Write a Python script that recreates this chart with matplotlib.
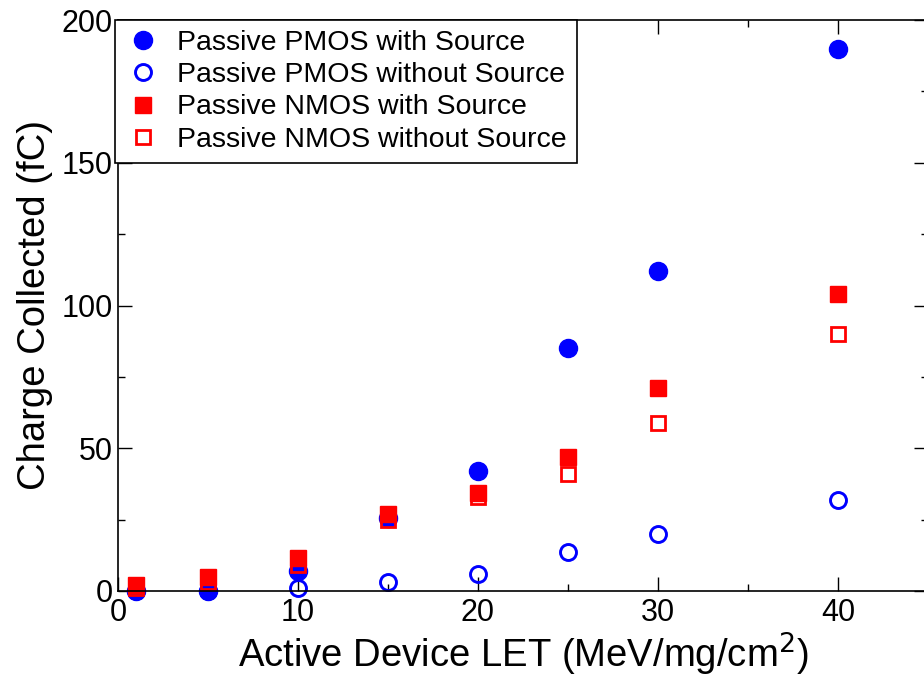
import matplotlib
matplotlib.use("Agg")
import matplotlib.pyplot as plt
from matplotlib.ticker import MultipleLocator

plt.rcParams['font.family'] = ['Liberation Sans', 'DejaVu Sans']

let = [1, 5, 10, 15, 20, 25, 30, 40]
pmos_src = [0, 0, 7, 25.5, 42, 85, 112, 190]
pmos_nosrc = [0, 0, 1, 3, 6, 13.5, 20, 32]
nmos_src = [2, 5, 11.5, 27, 34.5, 47, 71, 104]
nmos_nosrc = [1, 3, 9, 25, 33, 41, 59, 90]

fig = plt.figure(figsize=(9.24, 6.78), dpi=100)
ax = fig.add_axes([118/924, 87/678, 810/924, 571/678])

ax.plot(let, pmos_src, 'o', color="blue", markersize=13, clip_on=False,
        label="Passive PMOS with Source")
ax.plot(let, pmos_nosrc, 'o', color="blue", markerfacecolor="none", markeredgewidth=2.1,
        markersize=11.5, clip_on=False, label="Passive PMOS without Source")
ax.plot(let, nmos_src, 's', color="red", markersize=11, clip_on=False,
        label="Passive NMOS with Source")
ax.plot(let, nmos_nosrc, 's', color="red", markerfacecolor="none", markeredgewidth=2.0,
        markersize=10, clip_on=False, label="Passive NMOS without Source")

ax.set_xlim(0, 45)
ax.set_ylim(0, 200)
ax.xaxis.set_major_locator(MultipleLocator(10))
ax.xaxis.set_minor_locator(MultipleLocator(5))
ax.yaxis.set_major_locator(MultipleLocator(50))
ax.yaxis.set_minor_locator(MultipleLocator(25))
ax.tick_params(which="both", direction="in", top=True, right=True, labelsize=22, width=1)
ax.tick_params(which="major", length=10)
ax.tick_params(which="minor", length=5)
ax.tick_params(axis="x", pad=5)
ax.tick_params(axis="y", pad=4)
for s in ax.spines.values():
    s.set_linewidth(1.2)

ax.set_xlabel("Active Device LET (MeV/mg/cm$^2$)", fontsize=27.5, labelpad=2)
ax.set_ylabel("Charge Collected (fC)", fontsize=27.5, labelpad=6)

leg = ax.legend(loc="upper left", bbox_to_anchor=(-0.004, 1.0), fontsize=20.5, frameon=True,
                fancybox=False, edgecolor="black", framealpha=1, borderpad=0.35,
                labelspacing=0.22, handletextpad=0.55, handlelength=1.3, borderaxespad=0)
leg.get_frame().set_linewidth(1.2)

fig.savefig("out.png", dpi=100)
